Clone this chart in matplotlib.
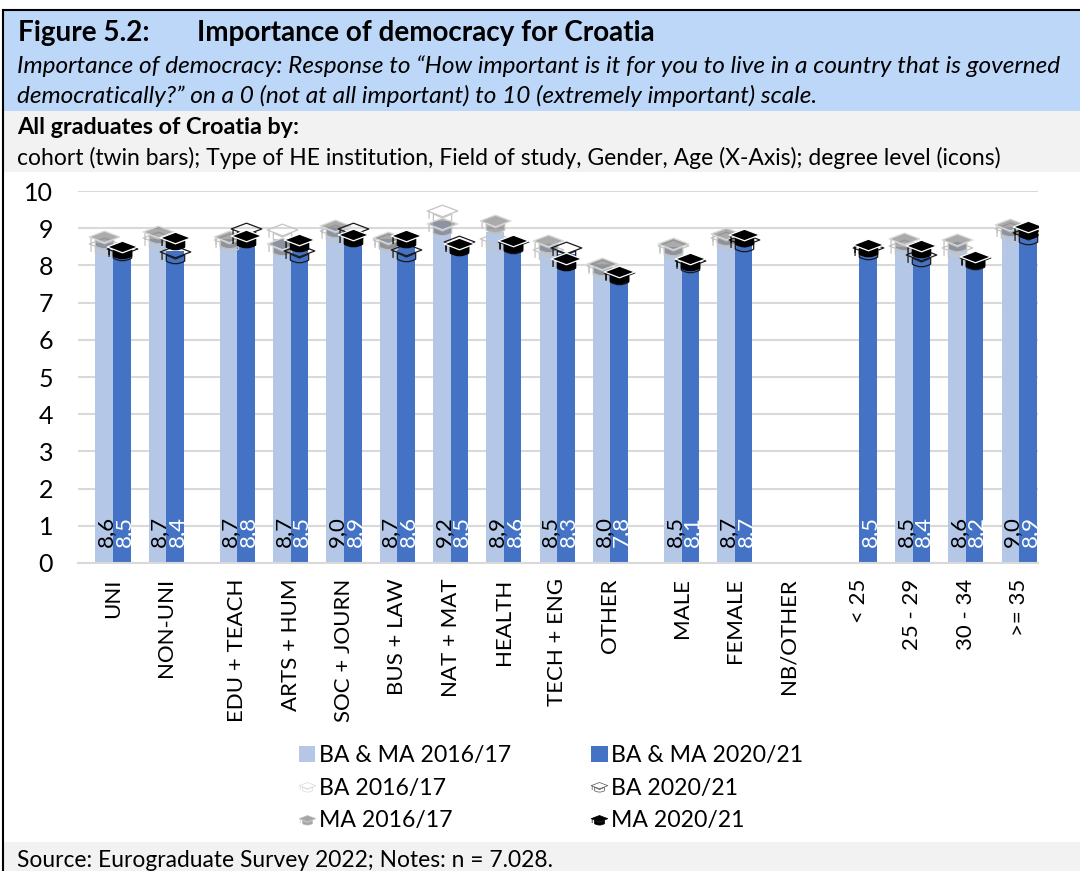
import matplotlib
matplotlib.use("Agg")
import matplotlib.pyplot as plt
from matplotlib.path import Path
from matplotlib.patches import Rectangle, Patch
from matplotlib.lines import Line2D
from matplotlib.legend_handler import HandlerTuple

plt.rcParams['font.family'] = ['Lato', 'DejaVu Sans']

W, H = 1080, 871

categories = ['UNI', 'NON-UNI', 'EDU + TEACH', 'ARTS + HUM', 'SOC + JOURN', 'BUS + LAW', 'NAT + MAT',
              'HEALTH', 'TECH + ENG', 'OTHER', 'MALE', 'FEMALE', 'NB/OTHER', '< 25', '25 - 29', '30 - 34', '>= 35']
group_index = [0, 0, 1, 1, 1, 1, 1, 1, 1, 1, 2, 2, 2, 3, 3, 3, 3]
bars_2016 = [8.6, 8.7, 8.7, 8.7, 9.0, 8.7, 9.2, 8.9, 8.5, 8.0, 8.5, 8.7, None, None, 8.5, 8.6, 9.0]
bars_2020 = [8.5, 8.4, 8.8, 8.5, 8.9, 8.6, 8.5, 8.6, 8.3, 7.8, 8.1, 8.7, None, 8.5, 8.4, 8.2, 8.9]
ba_2016 = [8.55, 8.70, 8.65, 8.93, 8.90, 8.65, 9.43, 8.68, 8.40, 7.95, 8.50, 8.72, None, None, 8.50, 8.45, 8.95]
ma_2016 = [8.73, 8.87, 8.75, 8.55, 9.03, 8.70, 9.08, 9.17, 8.63, 8.00, 8.55, 8.82, None, None, 8.68, 8.65, 9.05]
ba_2020 = [8.42, 8.33, 8.95, 8.35, 8.95, 8.40, 8.60, 8.60, 8.45, 7.78, 8.10, 8.65, None, 8.45, 8.25, 8.18, 8.85]
ma_2020 = [8.46, 8.70, 8.77, 8.65, 8.80, 8.77, 8.55, 8.63, 8.15, 7.80, 8.15, 8.80, None, 8.52, 8.50, 8.20, 9.00]
y_ticks = [0, 1, 2, 3, 4, 5, 6, 7, 8, 9, 10]

positions = [i + g / 3 for i, g in enumerate(group_index)]

# graduation cap glyph: flat board (diamond) and curved skull-cap with tassel, two markers of one scale
board = Path([(-1, 0), (1, 0), (-1, 0.1), (0, 0.48), (1, 0.1), (0, -0.28), (-1, 0.1)],
             [Path.MOVETO, Path.MOVETO, Path.MOVETO, Path.LINETO, Path.LINETO, Path.LINETO, Path.CLOSEPOLY])
skull = Path([(-1, 0), (1, 0), (-0.6, -0.1), (-0.6, -0.5), (0, -0.85), (0.6, -0.5), (0.6, -0.1), (0, -0.36), (-0.6, -0.1),
              (-0.88, 0.06), (-0.88, -0.42)],
             [Path.MOVETO, Path.MOVETO, Path.MOVETO, Path.LINETO, Path.CURVE3, Path.CURVE3, Path.LINETO, Path.LINETO, Path.LINETO,
              Path.MOVETO, Path.LINETO])

fig = plt.figure(figsize=(W / 100, H / 100), dpi=100, facecolor='white')
bg = fig.add_axes([0, 0, 1, 1], zorder=0)
bg.set_xlim(0, W)
bg.set_ylim(H, 0)
bg.axis('off')
bg.add_patch(Rectangle((3, 11), W, 100, fc='#BDD7F8', ec='none'))
bg.add_patch(Rectangle((3, 111), W, 61, fc='#F2F2F2', ec='none'))
bg.add_patch(Rectangle((3, 842), W, 29, fc='#F2F2F2', ec='none'))
bg.plot([2.5, 2.5], [871, 10.5], color='black', lw=1.5)
bg.plot([2.5, 1080], [10.5, 10.5], color='black', lw=1.5)

bg.text(18, 33, 'Figure 5.2:', fontsize=20.1, fontweight='bold', va='center')
bg.text(197, 33, 'Importance of democracy for Croatia', fontsize=20.1, fontweight='bold', va='center')
bg.text(17, 66, 'Importance of democracy: Response to \u201cHow important is it for you to live in a country that is governed',
        fontsize=17.55, style='italic', va='center')
bg.text(17, 96, 'democratically?\u201d on a 0 (not at all important) to 10 (extremely important) scale.',
        fontsize=17.55, style='italic', va='center')
bg.text(17, 128, 'All graduates of Croatia by:', fontsize=16.8, fontweight='bold', va='center')
bg.text(17, 158, 'cohort (twin bars); Type of HE institution, Field of study, Gender, Age (X-Axis); degree level (icons)',
        fontsize=16.45, va='center')
bg.text(17, 860, 'Source: Eurograduate Survey 2022; Notes: n = 7.028.', fontsize=16.4, va='center')

L, R, T, B = 78, 1038, 191, 563
ax = fig.add_axes([L / W, 1 - B / H, (R - L) / W, (B - T) / H], zorder=1)
ax.patch.set_alpha(0)
unit = 53.3
ax.set_xlim((L - 113) / unit, (R - 113) / unit)
ax.set_ylim(0, 10)
ax.set_yticks(y_ticks)
ax.grid(axis='y', color='#D9D9D9', lw=1.5, zorder=0)
ax.set_axisbelow(True)
for s in ax.spines.values():
    s.set_visible(False)
ax.spines['bottom'].set_visible(True)
ax.spines['bottom'].set_color('#D9D9D9')
ax.spines['bottom'].set_linewidth(1.5)
ax.tick_params(length=0)
ax.tick_params(axis='y', labelsize=18, pad=18)
ax.set_xticks(positions)
ax.set_xticklabels(categories, rotation=90, fontsize=16)
ax.tick_params(axis='x', pad=11)

bw = 0.33
label_nudge = 0.035
C16, C20 = '#B4C7E7', '#4472C4'
for i, x in enumerate(positions):
    if bars_2016[i] is not None:
        ax.bar(x - bw / 2, bars_2016[i], bw, color=C16, zorder=2)
        ax.text(x - bw / 2 + label_nudge, 0.43, f'{bars_2016[i]:.1f}'.replace('.', ','), rotation=90,
                ha='center', va='bottom', fontsize=16, color='black', zorder=6)
    if bars_2020[i] is not None:
        ax.bar(x + bw / 2, bars_2020[i], bw, color=C20, zorder=2)
        ax.text(x + bw / 2 + label_nudge, 0.43, f'{bars_2020[i]:.1f}'.replace('.', ','), rotation=90,
                ha='center', va='bottom', fontsize=16, color='white', zorder=6)

GREY_FILL = (0.45, 0.45, 0.45, 0.6)
styles = [
    (ba_2016, -1, 'none', '#C4C4C4', '#C4C4C4', 3),
    (ma_2016, -1, GREY_FILL, '#BFBFBF', '#D8D8D8', 3),
    (ba_2020, 1, 'none', '#1A1A1A', '#1A1A1A', 4),
    (ma_2020, 1, '#000000', '#000000', 'white', 4),
]
for vals, side, fill, skull_ec, board_ec, z in styles:
    xs = [p + side * bw / 2 for p, v in zip(positions, vals) if v is not None]
    ys = [v for v in vals if v is not None]
    ax.plot(xs, ys, ls='none', marker=skull, ms=22, mfc=fill, mec=skull_ec, mew=0.9, zorder=z)
    ax.plot(xs, ys, ls='none', marker=board, ms=22, mfc=fill, mec=board_ec, mew=0.9, zorder=z)


def cap_handle(fill, ec):
    s = Line2D([], [], ls='none', marker=skull, ms=12, mfc=fill, mec=ec, mew=0.5)
    b = Line2D([], [], ls='none', marker=board, ms=12, mfc=fill, mec=ec, mew=0.5)
    return (s, b)


handles = [Patch(fc=C16), cap_handle('none', '#D8D8D8'), cap_handle('#A6A6A6', '#BFBFBF'),
           Patch(fc=C20), cap_handle('none', '#505050'), cap_handle('#000000', '#000000')]
labels = ['BA & MA 2016/17', 'BA 2016/17', 'MA 2016/17', 'BA & MA 2020/21', 'BA 2020/21', 'MA 2020/21']
fig.legend(handles, labels, ncols=2, frameon=False, fontsize=16.6, loc='center left',
           bbox_to_anchor=(299 / W, 1 - 788 / H), handlelength=0.7, handleheight=0.7,
           handler_map={tuple: HandlerTuple(ndivide=1, pad=0)},
           handletextpad=0.15, columnspacing=3.5, labelspacing=0.5, borderpad=0, borderaxespad=0)

fig.savefig('out.png', dpi=100)
